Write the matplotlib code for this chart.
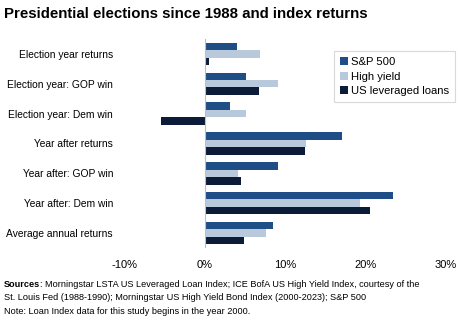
import matplotlib
matplotlib.use("Agg")
import matplotlib.pyplot as plt
import numpy as np

plt.rcParams['font.family'] = ['Liberation Sans', 'DejaVu Sans']

categories = ["Election year returns", "Election year: GOP win", "Election year: Dem win",
              "Year after returns", "Year after: GOP win", "Year after: Dem win",
              "Average annual returns"]
sp500 = [4.0, 5.2, 3.1, 17.1, 9.1, 23.4, 8.5]
high_yield = [6.9, 9.1, 5.2, 12.6, 4.1, 19.3, 7.6]
lev_loans = [0.6, 6.7, -5.4, 12.5, 4.5, 20.5, 4.9]
series_names = ["S&P 500", "High yield", "US leveraged loans"]
colors = ["#1f4e86", "#b9c9dc", "#0c1c38"]
xticks = [-10, 0, 10, 20, 30]
xticklabels = ["-10%", "0%", "10%", "20%", "30%"]

fig = plt.figure(figsize=(4.74, 3.22), dpi=100)
ax = fig.add_axes([0.262, 0.230, 0.679, 0.649])

y = np.arange(len(categories))
h = 0.25
for i, (vals, name, c) in enumerate(zip([sp500, high_yield, lev_loans], series_names, colors)):
    ax.barh(y + (i - 1) * h, vals, height=h, color=c, label=name)

ax.set_ylim(len(categories) - 0.5, -0.5)
ax.set_xlim(-10, 30)
ax.set_xticks(xticks)
ax.set_xticklabels(xticklabels, fontsize=8)
ax.set_yticks(y)
ax.set_yticklabels(categories, fontsize=7.4)
ax.tick_params(axis='y', length=0, pad=8)
ax.tick_params(axis='x', length=0, pad=9)
for s in ax.spines.values():
    s.set_visible(False)
ax.axvline(0, color="#bfbfbf", lw=0.8)

leg = fig.legend(loc="upper right", bbox_to_anchor=(0.972, 0.858),
                 prop={'size': 8.1}, frameon=True,
                 fancybox=False, edgecolor="#d0d0d0", handlelength=0.75, handleheight=0.75,
                 handletextpad=0.3, borderpad=0.5, labelspacing=0.4)
leg.get_frame().set_linewidth(0.8)

fig.text(0.008, 0.955, "Presidential elections since 1988 and index returns", fontsize=10.8,
         fontweight="bold", va="center", ha="left")

fs = 6.55
t = fig.text(0.008, 0.117, "Sources", fontsize=fs, fontweight="bold", va="center")
fig.canvas.draw()
bb = t.get_window_extent()
x2 = bb.x1 / fig.bbox.width
fig.text(x2, 0.117, ": Morningstar LSTA US Leveraged Loan Index; ICE BofA US High Yield Index, courtesy of the",
         fontsize=fs, va="center")
fig.text(0.008, 0.075, "St. Louis Fed (1988-1990); Morningstar US High Yield Bond Index (2000-2023); S&P 500",
         fontsize=fs, va="center")
fig.text(0.008, 0.033, "Note: Loan Index data for this study begins in the year 2000.", fontsize=fs,
         va="center")

fig.savefig("out.png", dpi=100)
